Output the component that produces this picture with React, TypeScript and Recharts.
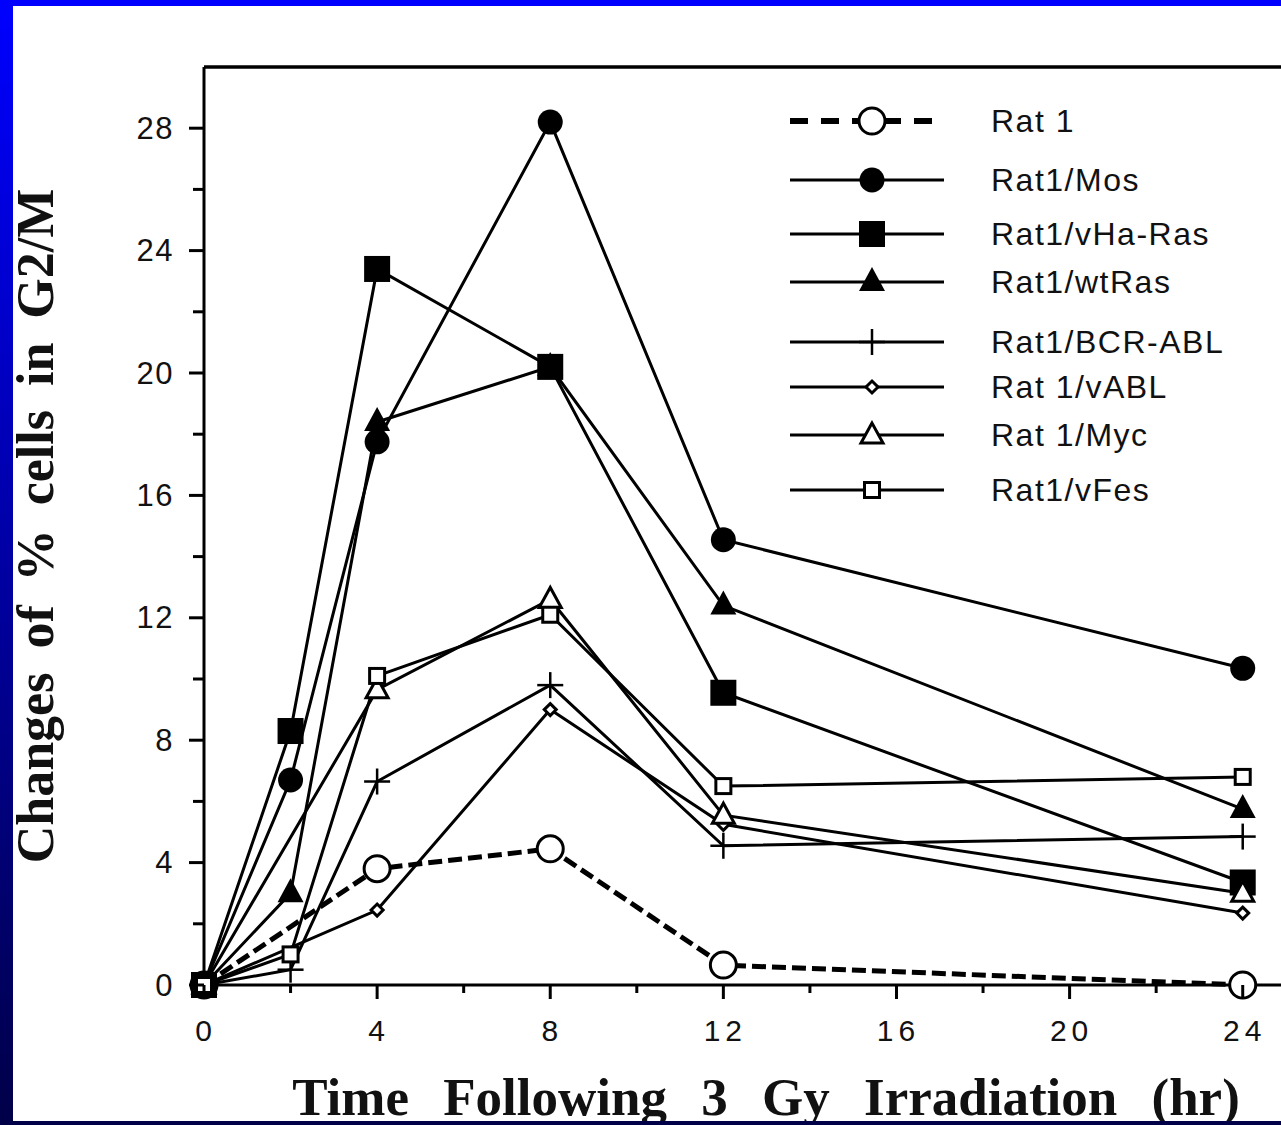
import { Legend, Line, LineChart, ReferenceLine, XAxis, YAxis } from 'recharts'

// hours after 3 Gy irradiation
const hoursFull = [0, 2, 4, 8, 12, 24]
const hoursNo2 = [0, 4, 8, 12, 24]

// change of % cells in G2/M
const rat1 = [0, 3.8, 4.45, 0.65, 0]
const rat1Mos = [0, 6.7, 17.75, 28.2, 14.55, 10.35]
const rat1VHaRas = [0, 8.3, 23.4, 20.2, 9.55, 3.35]
const rat1WtRas = [0, 3.0, 18.4, 20.2, 12.4, 5.75]
const rat1BcrAbl = [0, 0.5, 6.65, 9.8, 4.55, 4.85]
const rat1VAbl = [0, 2.45, 9.0, 5.25, 2.35]
const rat1Myc = [0, 9.65, 12.6, 5.55, 3.0]
const rat1VFes = [0, 1.0, 10.1, 12.1, 6.5, 6.8]

const yTicks = [0, 2, 4, 6, 8, 10, 12, 14, 16, 18, 20, 22, 24, 26, 28]
const xTicks = [0, 2, 4, 6, 8, 10, 12, 14, 16, 18, 20, 22, 24]

const SANS = '"Liberation Sans", Arial, sans-serif'
const SERIF = '"Liberation Serif", "Times New Roman", serif'

// vertical centre of each key row, measured from the top of the key box
const KEY_ROW_Y = [26, 85, 139, 187, 247, 292, 340, 395]

type MarkerKind = 'openCircle' | 'dot' | 'square' | 'triangle' | 'plus' | 'diamond' | 'openTriangle' | 'openSquare'

interface Series {
  name: string
  marker: MarkerKind
  dashed?: boolean
  xs: number[]
  ys: number[]
}

const SERIES: Series[] = [
  { name: 'Rat 1', marker: 'openCircle', dashed: true, xs: hoursNo2, ys: rat1 },
  { name: 'Rat1/Mos', marker: 'dot', xs: hoursFull, ys: rat1Mos },
  { name: 'Rat1/vHa-Ras', marker: 'square', xs: hoursFull, ys: rat1VHaRas },
  { name: 'Rat1/wtRas', marker: 'triangle', xs: hoursFull, ys: rat1WtRas },
  { name: 'Rat1/BCR-ABL', marker: 'plus', xs: hoursFull, ys: rat1BcrAbl },
  { name: 'Rat 1/vABL', marker: 'diamond', xs: hoursNo2, ys: rat1VAbl },
  { name: 'Rat 1/Myc', marker: 'openTriangle', xs: hoursNo2, ys: rat1Myc },
  { name: 'Rat1/vFes', marker: 'openSquare', xs: hoursFull, ys: rat1VFes },
]

function Marker({ kind, cx, cy }: { kind: MarkerKind; cx: number; cy: number }) {
  switch (kind) {
    case 'openCircle':
      return <circle cx={cx} cy={cy} r={13} fill="#fff" stroke="#000" strokeWidth={3} />
    case 'dot':
      return <circle cx={cx} cy={cy} r={12.5} fill="#000" />
    case 'square':
      return <rect x={cx - 13} y={cy - 13} width={26} height={26} fill="#000" />
    case 'triangle':
      return <polygon points={`${cx},${cy - 15} ${cx - 13},${cy + 9} ${cx + 13},${cy + 9}`} fill="#000" />
    case 'plus':
      return (
        <g stroke="#000" strokeWidth={2.5}>
          <line x1={cx - 13} x2={cx + 13} y1={cy} y2={cy} />
          <line x1={cx} x2={cx} y1={cy - 13} y2={cy + 13} />
        </g>
      )
    case 'diamond':
      return <polygon points={`${cx},${cy - 6} ${cx + 6},${cy} ${cx},${cy + 6} ${cx - 6},${cy}`} fill="#fff" stroke="#000" strokeWidth={3} />
    case 'openTriangle':
      return <polygon points={`${cx},${cy - 12} ${cx - 11},${cy + 8} ${cx + 11},${cy + 8}`} fill="#fff" stroke="#000" strokeWidth={3} />
    case 'openSquare':
      return <rect x={cx - 7.5} y={cy - 7.5} width={15} height={15} fill="#fff" stroke="#000" strokeWidth={3} />
  }
}

const dotFor = (kind: MarkerKind) => (p: any) => (
  <Marker key={`${kind}-${p.index}`} kind={kind} cx={p.cx} cy={p.cy} />
)

function YTick({ x, y, payload }: any) {
  const major = payload.value % 4 === 0
  return (
    <g>
      <line x1={x - (major ? 15 : 11)} x2={x} y1={y} y2={y} stroke="#000" strokeWidth={3} />
      {major && (
        <text x={x - 30} y={y} textAnchor="end" dominantBaseline="central" fontFamily={SANS} fontSize={31} letterSpacing={1.5} fill="#111">
          {payload.value}
        </text>
      )}
    </g>
  )
}

function XTick({ x, y, payload }: any) {
  const major = payload.value % 4 === 0
  return (
    <g>
      <line x1={x} x2={x} y1={y} y2={y + (major ? 14 : 8)} stroke="#000" strokeWidth={3} />
      {major && (
        <text x={x + 2} y={y + 45} textAnchor="middle" dominantBaseline="central" fontFamily={SANS} fontSize={30} letterSpacing={5} fill="#111">
          {payload.value}
        </text>
      )}
    </g>
  )
}

function KeyRows() {
  return (
    <div style={{ position: 'relative', height: 430, fontFamily: SANS, fontSize: 32, letterSpacing: 1.5, color: '#111' }}>
      {SERIES.map((s, i) => (
        <div
          key={s.name}
          style={{ position: 'absolute', left: 0, top: KEY_ROW_Y[i] - 20, height: 40, display: 'flex', alignItems: 'center' }}
        >
          <svg width={160} height={40} style={{ flex: 'none' }}>
            {s.dashed ? (
              <line x1={2} x2={145} y1={20} y2={20} stroke="#000" strokeWidth={6} strokeDasharray="18 13" />
            ) : (
              <line x1={2} x2={156} y1={20} y2={20} stroke="#000" strokeWidth={3} />
            )}
            <Marker kind={s.marker} cx={84} cy={20} />
          </svg>
          <span style={{ marginLeft: 43, whiteSpace: 'nowrap' }}>{s.name}</span>
        </div>
      ))}
    </div>
  )
}

export default function App() {
  return (
    <div style={{ position: 'absolute', left: 0, top: 0, width: 1281, height: 1125, overflow: 'hidden', background: '#fff' }}>
      <LineChart width={1286} height={1125} margin={{ top: 67, right: 0, bottom: 80, left: 0 }}>
        <XAxis
          type="number"
          dataKey="x"
          domain={[0, 25]}
          ticks={xTicks}
          interval={0}
          height={60}
          tickSize={0}
          tickMargin={0}
          tick={XTick}
          axisLine={{ stroke: '#000', strokeWidth: 3 }}
          label={{
            content: () => (
              <text x={766} y={1115} textAnchor="middle" fontFamily={SERIF} fontWeight="bold" fontSize={53} fill="#111" style={{ wordSpacing: 21 }}>
                Time Following 3 Gy Irradiation (hr)
              </text>
            ),
          }}
        />
        <YAxis
          type="number"
          dataKey="y"
          domain={[0, 30]}
          ticks={yTicks}
          interval={0}
          width={204}
          tickSize={0}
          tickMargin={0}
          tick={YTick}
          axisLine={{ stroke: '#000', strokeWidth: 3 }}
          label={{
            content: () => (
              <text x={53} y={526} transform="rotate(-90 53 526)" textAnchor="middle" fontFamily={SERIF} fontWeight="bold" fontSize={52} fill="#111" style={{ wordSpacing: 11 }}>
                Changes of % cells in G2/M
              </text>
            ),
          }}
        />
        <ReferenceLine y={30} stroke="#000" strokeWidth={3.5} />
        <Legend
          layout="vertical"
          align="center"
          verticalAlign="middle"
          wrapperStyle={{ left: 788, top: 95, width: 480 }}
          content={() => <KeyRows />}
        />
        {SERIES.map(s => (
          <Line
            key={s.name}
            name={s.name}
            data={s.xs.map((x, i) => ({ x, y: s.ys[i] }))}
            dataKey="y"
            type="linear"
            stroke="#000"
            strokeWidth={s.dashed ? 5 : 3}
            strokeDasharray={s.dashed ? '14 6' : undefined}
            dot={dotFor(s.marker)}
            activeDot={false}
            isAnimationActive={false}
          />
        ))}
      </LineChart>
      <div style={{ position: 'absolute', left: 0, top: 0, width: 1281, height: 6, background: '#0000ff' }} />
      <div style={{ position: 'absolute', left: 0, top: 1121, width: 1281, height: 4, background: '#000048' }} />
      <div style={{ position: 'absolute', left: 0, top: 0, width: 13, height: 1125, background: 'linear-gradient(#0000ff, #000048)' }} />
    </div>
  )
}
